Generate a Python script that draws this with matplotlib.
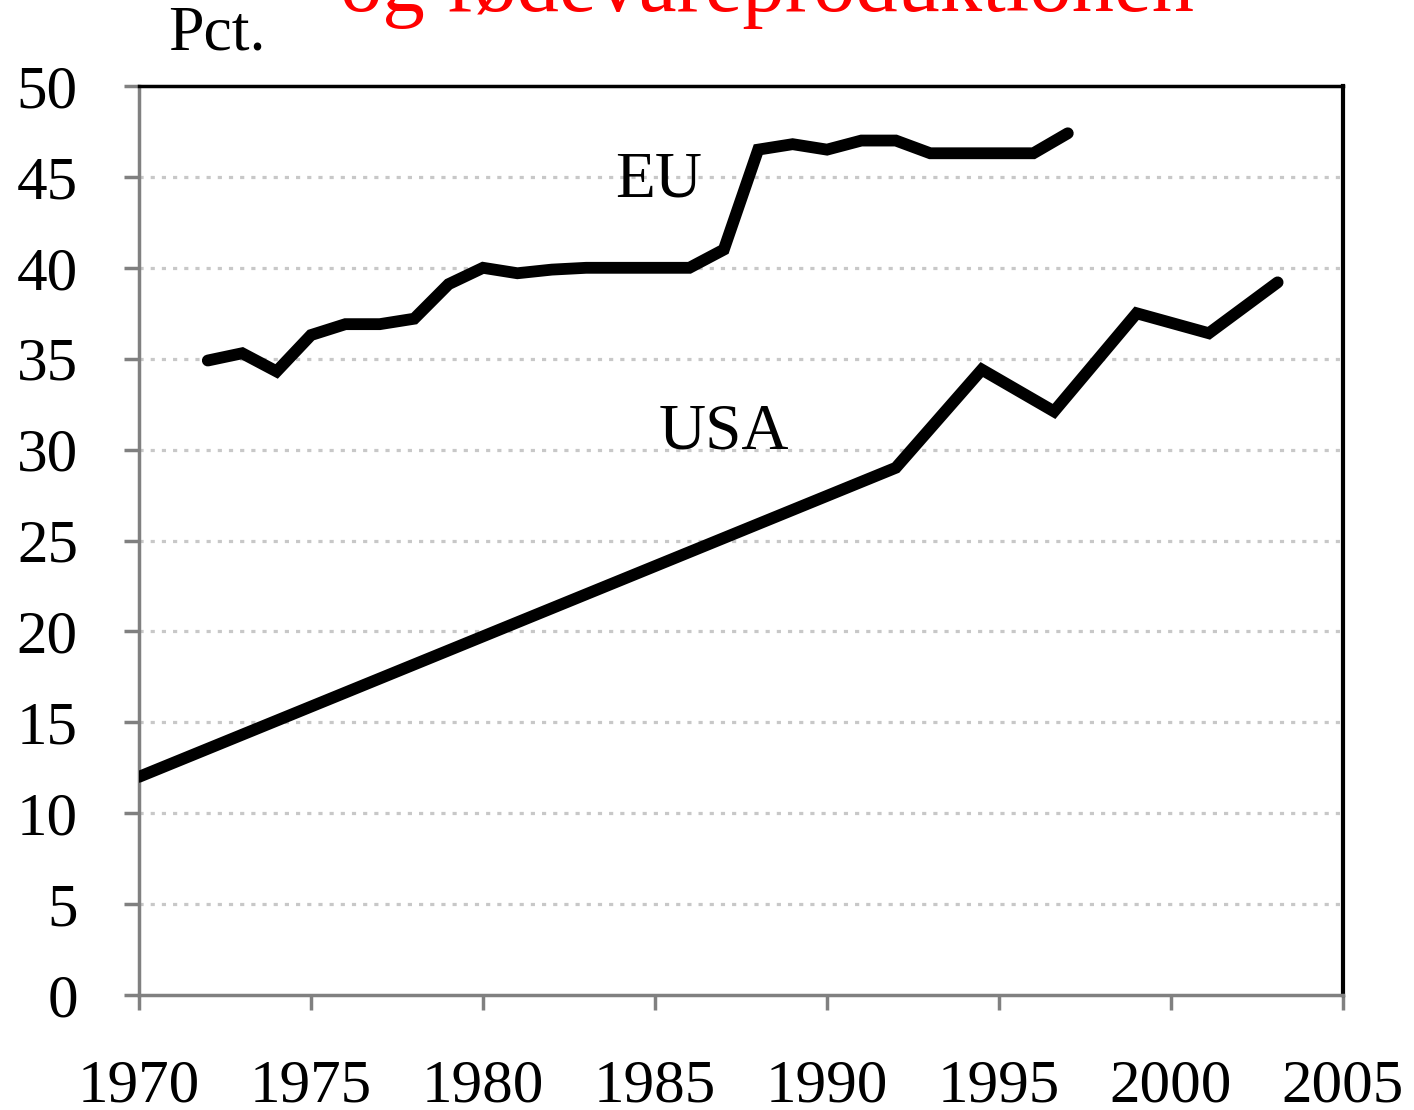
import matplotlib
matplotlib.use("Agg")
import matplotlib.pyplot as plt

# Data
eu_years = list(range(1972, 1998))
eu_values = [34.9, 35.3, 34.3, 36.3, 36.9, 36.9, 37.2, 39.1, 40.0, 39.7,
             39.9, 40.0, 40.0, 40.0, 40.0, 41.0, 46.5, 46.8, 46.5, 47.0,
             47.0, 46.3, 46.3, 46.3, 46.3, 47.4]

usa_years = [1970, 1992, 1994.5, 1996.6, 1999, 2001.1, 2003.1]
usa_values = [12.0, 29.0, 34.4, 32.1, 37.5, 36.4, 39.2]

x_ticks = [1970, 1975, 1980, 1985, 1990, 1995, 2000, 2005]
y_ticks = [0, 5, 10, 15, 20, 25, 30, 35, 40, 45, 50]

plt.rcParams['font.family'] = ['Liberation Serif', 'DejaVu Serif']

fig = plt.figure(figsize=(14.14, 11.10), dpi=100)
ax = fig.add_axes([139 / 1414, 1 - 995 / 1110, (1343 - 139) / 1414, (995 - 86) / 1110])

ax.plot(eu_years, eu_values, color='black', lw=8.5, solid_capstyle='round',
        solid_joinstyle='miter', zorder=3)
ax.plot(usa_years, usa_values, color='black', lw=8.5, solid_capstyle='round',
        solid_joinstyle='miter', zorder=3)

ax.set_xlim(1970, 2005)
ax.set_ylim(0, 50)
ax.set_xticks(x_ticks)
ax.set_yticks(y_ticks)
ax.set_xticklabels([str(t) for t in x_ticks], fontsize=44)
ax.set_yticklabels([str(t) for t in y_ticks], fontsize=44)

for y in y_ticks[1:-1]:
    ax.axhline(y, color='#c8c8c8', lw=2.3, linestyle=(0, (1.3, 2.2)), zorder=1)

ax.spines['left'].set_color('#808080')
ax.spines['bottom'].set_color('#808080')
ax.spines['left'].set_linewidth(2.5)
ax.spines['bottom'].set_linewidth(2.5)
ax.spines['top'].set_color('black')
ax.spines['right'].set_color('black')
ax.spines['top'].set_linewidth(2.5)
ax.spines['right'].set_linewidth(3)
ax.tick_params(axis='both', direction='out', color='#808080', width=2.5, length=11)
ax.tick_params(axis='y', pad=33)
ax.tick_params(axis='x', pad=35)

ax.text(1985.1, 44.8, 'EU', fontsize=47, ha='center', va='center')
ax.text(1987.0, 30.9, 'USA', fontsize=47, ha='center', va='center')

fig.text(217 / 1414, 1 - 34 / 1110, 'Pct.', fontsize=46, ha='center', va='center')
fig.text(767 / 1414, 1 - 11 / 1110, 'og fødevareproduktionen', fontsize=61,
         color='red', ha='center', va='baseline')

fig.savefig('out.png', dpi=100)
